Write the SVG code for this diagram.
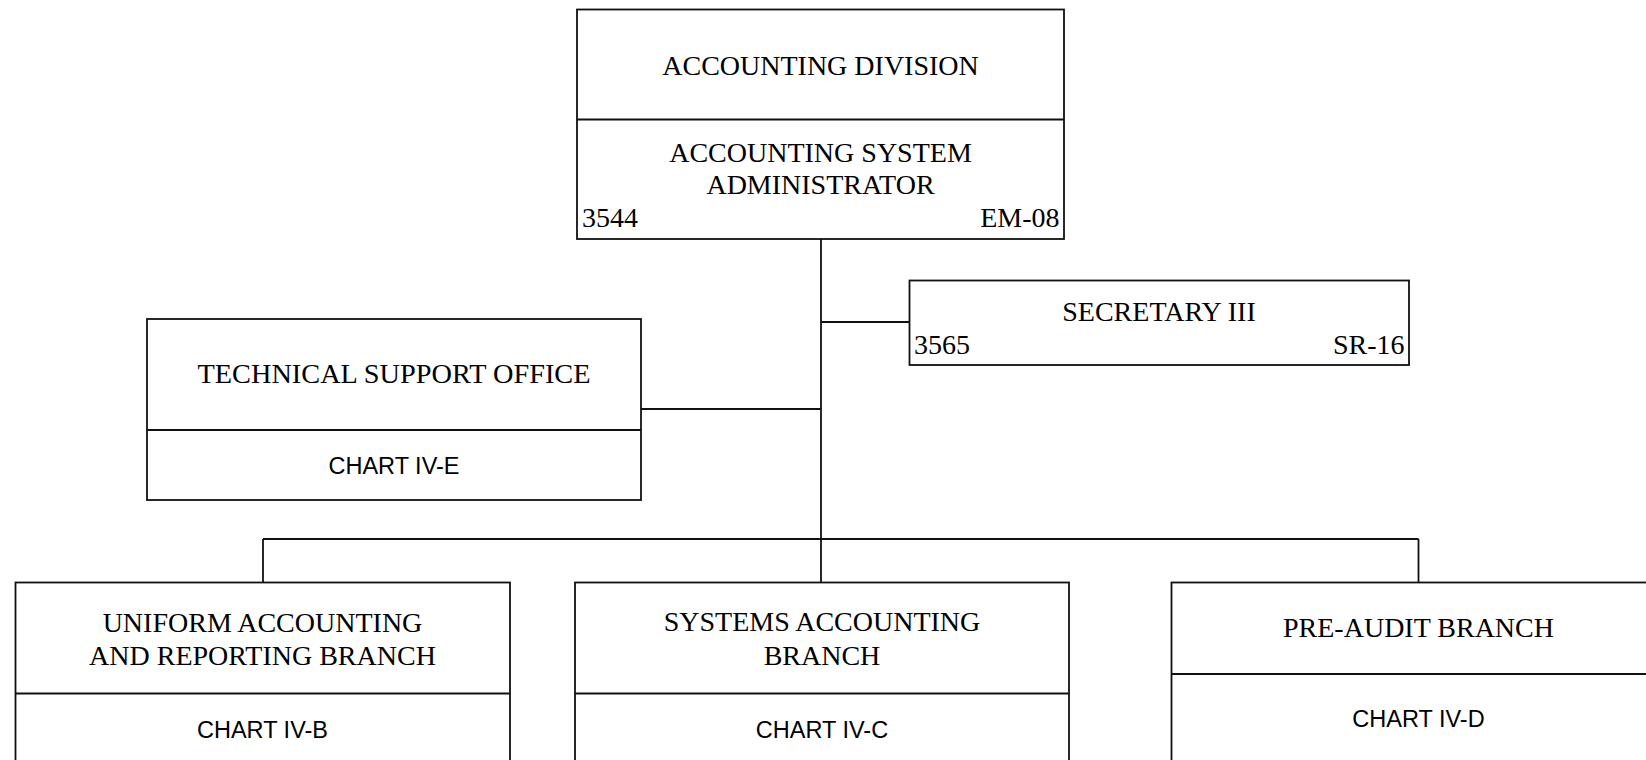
<svg xmlns="http://www.w3.org/2000/svg" width="1646" height="760" viewBox="0 0 1646 760">
<style>
.box{fill:#fff;stroke:#111;stroke-width:1.8}
.div{stroke:#111;stroke-width:1.8}
.con{stroke:#111;stroke-width:1.8;fill:none}
.t{font-family:"Liberation Serif","Times New Roman",serif;font-size:28px;fill:#000}
.c{text-anchor:middle}
.e{text-anchor:end}
.s{font-family:"Liberation Sans",Arial,sans-serif;font-size:23.5px;fill:#000;text-anchor:middle}
</style>
<rect width="1646" height="760" fill="#fff"/>
<g id="connectors">
<line class="con" x1="821" y1="239" x2="821" y2="582.5"/>
<line class="con" x1="821" y1="322" x2="909.5" y2="322"/>
<line class="con" x1="641" y1="409" x2="821" y2="409"/>
<line class="con" x1="263" y1="539" x2="1418.5" y2="539"/>
<line class="con" x1="263" y1="539" x2="263" y2="582.5"/>
<line class="con" x1="1418.5" y1="539" x2="1418.5" y2="582.5"/>
</g>
<g id="accounting-division">
<rect class="box" x="577" y="9.5" width="487" height="229.5"/>
<line class="div" x1="577" y1="119.5" x2="1064" y2="119.5"/>
<text class="t c" x="820.5" y="75">ACCOUNTING DIVISION</text>
<text class="t c" x="820.5" y="162">ACCOUNTING SYSTEM</text>
<text class="t c" x="820.5" y="194">ADMINISTRATOR</text>
<text class="t" x="582" y="227">3544</text>
<text class="t e" x="1059.5" y="227">EM-08</text>
</g>
<g id="secretary">
<rect class="box" x="909.5" y="280.5" width="499.5" height="84.5"/>
<text class="t c" x="1159" y="321">SECRETARY III</text>
<text class="t" x="914" y="354">3565</text>
<text class="t e" x="1404.5" y="354">SR-16</text>
</g>
<g id="technical-support">
<rect class="box" x="147" y="319" width="494" height="181"/>
<line class="div" x1="147" y1="430" x2="641" y2="430"/>
<text class="t c" x="394" y="383" style="font-size:28.3px">TECHNICAL SUPPORT OFFICE</text>
<text class="s" x="394" y="474">CHART IV-E</text>
</g>
<g id="uniform-accounting">
<rect class="box" x="15.5" y="582.5" width="494.5" height="200"/>
<line class="div" x1="15.5" y1="693.5" x2="510" y2="693.5"/>
<text class="t c" x="262.5" y="632">UNIFORM ACCOUNTING</text>
<text class="t c" x="262.5" y="665">AND REPORTING BRANCH</text>
<text class="s" x="262.5" y="738">CHART IV-B</text>
</g>
<g id="systems-accounting">
<rect class="box" x="575" y="582.5" width="494" height="200"/>
<line class="div" x1="575" y1="693.5" x2="1069" y2="693.5"/>
<text class="t c" x="822" y="631">SYSTEMS ACCOUNTING</text>
<text class="t c" x="822" y="665">BRANCH</text>
<text class="s" x="822" y="738">CHART IV-C</text>
</g>
<g id="pre-audit">
<rect class="box" x="1171.5" y="582.5" width="494" height="200"/>
<line class="div" x1="1171.5" y1="674" x2="1665.5" y2="674"/>
<text class="t c" x="1418.5" y="637">PRE-AUDIT BRANCH</text>
<text class="s" x="1418.5" y="727">CHART IV-D</text>
</g>
</svg>
